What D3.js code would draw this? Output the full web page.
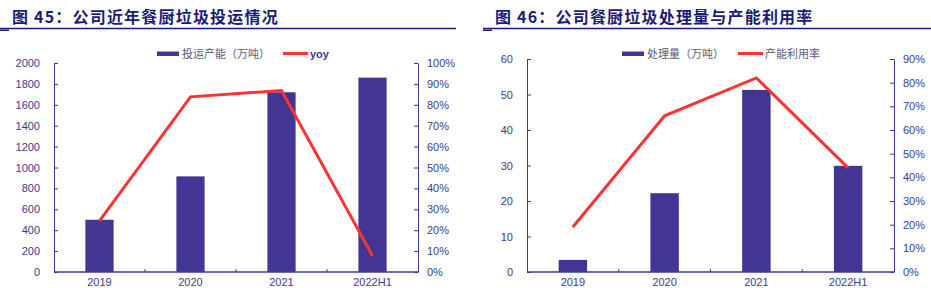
<!DOCTYPE html>
<html>
<head>
<meta charset="utf-8">
<script src="https://cdn.jsdelivr.net/npm/d3@7"></script>
<style>
  body { margin: 0; background: #fff; }
  svg { display: block; }
  .tick text { font-family: "Liberation Sans", Arial, sans-serif; font-size: 11px; fill: #3b3b8f; }
  .domain, .tick line { stroke: #3b3b9a; }
</style>
</head>
<body>
<svg id="chart" width="931" height="288"></svg>
<script>
// chart 45
const categories = ["2019", "2020", "2021", "2022H1"];
const capacity = [500, 915, 1720, 1860];
const capacityYoy = [0.245, 0.838, 0.868, 0.078];
// chart 46
const treated = [3.4, 22.2, 51.3, 29.9];
const utilization = [0.19, 0.66, 0.82, 0.44];

const leftTicks1 = [0, 200, 400, 600, 800, 1000, 1200, 1400, 1600, 1800, 2000];
const rightTicks1 = [0, 0.1, 0.2, 0.3, 0.4, 0.5, 0.6, 0.7, 0.8, 0.9, 1];
const leftTicks2 = [0, 10, 20, 30, 40, 50, 60];
const rightTicks2 = [0, 0.1, 0.2, 0.3, 0.4, 0.5, 0.6, 0.7, 0.8, 0.9];

const svg = d3.select("#chart");
const navy = "#1b1b7a";
const barColor = "#433594";
const lineColor = "#ff3333";

function drawTitle(text, x, lineX0, lineX1) {
    svg.append("text")
        .attr("x", x).attr("y", 23)
        .style("font-family", "'Noto Sans CJK SC', sans-serif")
        .style("font-weight", "bold")
        .style("font-size", "16px")
        .style("letter-spacing", "1.2px")
        .style("fill", navy)
        .text(text);
    svg.append("line")
        .attr("x1", lineX0).attr("x2", lineX1)
        .attr("y1", 28.5).attr("y2", 28.5)
        .style("stroke", navy).style("stroke-width", 1.5);
    svg.append("rect")
        .attr("x", lineX0).attr("y", 29.5)
        .attr("width", 9).attr("height", 1.5)
        .style("fill", navy);
}

function drawChart(cfg) {
    const g = svg.append("g");

    const x = d3.scaleBand()
        .domain(categories)
        .range([cfg.left, cfg.right])
        .paddingInner(0.69)
        .paddingOuter(0.345);

    const y = d3.scaleLinear().domain(cfg.leftDomain).range([cfg.bottom, cfg.top]);
    const y2 = d3.scaleLinear().domain(cfg.rightDomain).range([cfg.bottom, cfg.top]);

    // bars
    g.append("g").selectAll("rect")
        .data(cfg.bars)
        .enter().append("rect")
        .attr("x", (d, i) => x(categories[i]))
        .attr("y", d => y(d))
        .attr("width", x.bandwidth())
        .attr("height", d => cfg.bottom - y(d))
        .style("fill", barColor);

    // axes
    const yAxis = d3.axisLeft(y)
        .tickValues(cfg.leftTicks)
        .tickFormat(d3.format("d"))
        .tickSizeInner(-4).tickSizeOuter(0)
        .tickPadding(14);
    g.append("g")
        .attr("transform", "translate(" + cfg.left + ",0)")
        .call(yAxis);

    const y2Axis = d3.axisRight(y2)
        .tickValues(cfg.rightTicks)
        .tickFormat(d3.format(".0%"))
        .tickSizeInner(-4).tickSizeOuter(0)
        .tickPadding(9);
    g.append("g")
        .attr("transform", "translate(" + cfg.right + ",0)")
        .call(y2Axis);

    const xGroup = g.append("g");
    xGroup.append("line")
        .attr("x1", cfg.left).attr("x2", cfg.right)
        .attr("y1", cfg.bottom).attr("y2", cfg.bottom)
        .style("stroke", "#3b3b9a").style("stroke-width", 1.5);
    xGroup.selectAll("line.cat-tick")
        .data(categories.slice(1))
        .enter().append("line")
        .attr("class", "cat-tick")
        .attr("x1", d => x(d) - x.step() * x.paddingInner() / 2)
        .attr("x2", d => x(d) - x.step() * x.paddingInner() / 2)
        .attr("y1", cfg.bottom).attr("y2", cfg.bottom - 3)
        .style("stroke", "#3b3b9a");
    xGroup.selectAll("text")
        .data(categories)
        .enter().append("text")
        .attr("x", d => x(d) + x.bandwidth() / 2)
        .attr("y", cfg.bottom + 14)
        .attr("text-anchor", "middle")
        .style("font-family", "'Liberation Sans', Arial, sans-serif")
        .style("font-size", "11px")
        .style("fill", "#3b3b8f")
        .text(d => d);

    // line
    const line = d3.line()
        .x((d, i) => x(categories[i]) + x.bandwidth() / 2)
        .y(d => y2(d));
    g.append("path")
        .datum(cfg.line)
        .attr("d", line)
        .style("fill", "none")
        .style("stroke", lineColor)
        .style("stroke-width", 3)
        .style("stroke-linejoin", "miter");

    // legend
    const lg = g.append("g");
    lg.append("rect")
        .attr("x", cfg.legendX).attr("y", 51.5)
        .attr("width", 22).attr("height", 4.5)
        .style("fill", barColor);
    lg.append("text")
        .attr("x", cfg.legendX + 25).attr("y", 57.5)
        .style("font-family", "'Noto Sans CJK SC', sans-serif")
        .style("font-size", "11px")
        .style("fill", "#5a5a7a")
        .text(cfg.barName);
    lg.append("line")
        .attr("x1", cfg.legendX2).attr("x2", cfg.legendX2 + 25)
        .attr("y1", 53.5).attr("y2", 53.5)
        .style("stroke", lineColor).style("stroke-width", 3);
    lg.append("text")
        .attr("x", cfg.legendX2 + 27).attr("y", 57.5)
        .style("font-family", cfg.lineName === "yoy" ? "'Liberation Sans', Arial, sans-serif" : "'Noto Sans CJK SC', sans-serif")
        .style("font-size", "11px")
        .style("fill", cfg.lineName === "yoy" ? "#3b3b8f" : "#5a5a7a")
        .style("font-weight", cfg.lineName === "yoy" ? "bold" : "normal")
        .text(cfg.lineName);
}

drawTitle("图 45：公司近年餐厨垃圾投运情况", 12, 0, 456);
drawTitle("图 46：公司餐厨垃圾处理量与产能利用率", 495, 483, 931);

drawChart({
    left: 54, right: 418, top: 63, bottom: 272,
    leftDomain: [0, 2000], rightDomain: [0, 1],
    leftTicks: leftTicks1, rightTicks: rightTicks1,
    bars: capacity, line: capacityYoy,
    barName: "投运产能（万吨）", lineName: "yoy",
    legendX: 157, legendX2: 283
});

drawChart({
    left: 527, right: 894, top: 59, bottom: 272,
    leftDomain: [0, 60], rightDomain: [0, 0.9],
    leftTicks: leftTicks2, rightTicks: rightTicks2,
    bars: treated, line: utilization,
    barName: "处理量（万吨）", lineName: "产能利用率",
    legendX: 622, legendX2: 738
});
</script>
</body>
</html>
